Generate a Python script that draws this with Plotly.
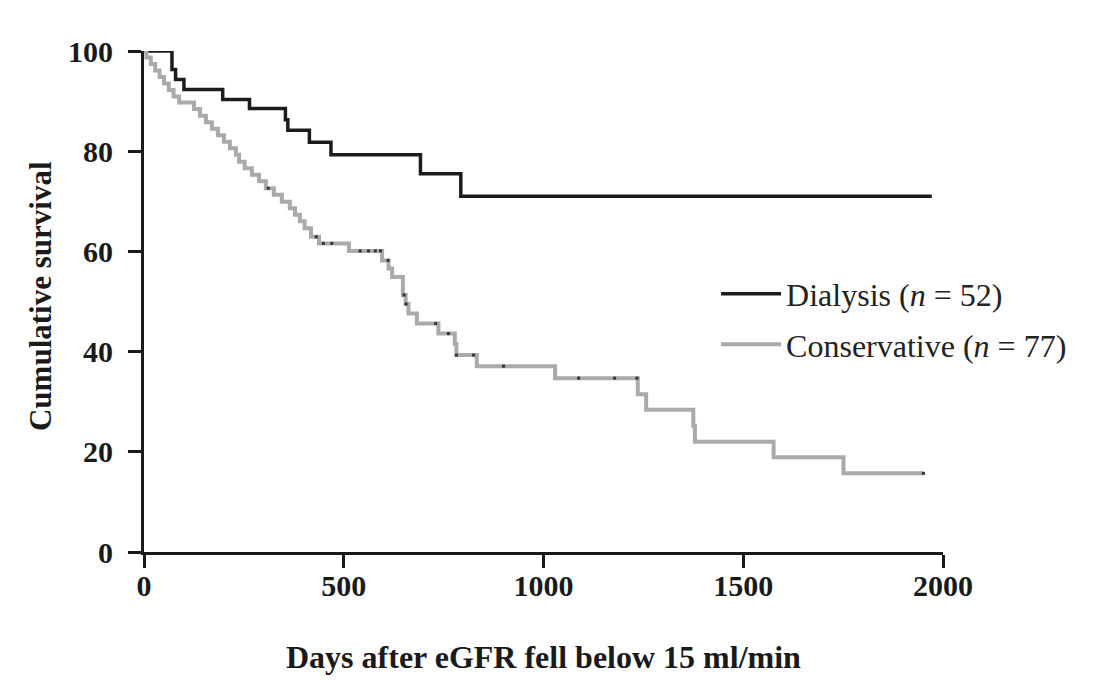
import numpy as np
import plotly.graph_objects as go

# Dialysis (n = 52) Kaplan-Meier steps
dial_days = [0, 70, 79, 100, 197, 264, 354, 360, 414, 468, 692, 793, 1972]
dial_surv = [100, 96.3, 94.3, 92.3, 90.3, 88.5, 86.3, 84.2, 81.8, 79.3, 75.5, 71.0, 71.0]

# Conservative (n = 77) Kaplan-Meier steps
cons_days = [0, 6, 17, 28, 39, 50, 62, 74, 88,
             125, 140, 155, 170, 185, 200, 215, 230, 238,
             252, 270, 288, 305, 325, 345,
             365, 378, 390, 402, 418, 438,
             513, 596, 612, 621, 648, 655, 662, 683, 737, 778, 782, 833,
             1029, 1236, 1257, 1375, 1379, 1576, 1751, 1951]
cons_surv = [100, 98.7, 97.4, 96.1, 94.8, 93.5, 92.2, 90.9, 89.7,
             88.4, 87.1, 85.8, 84.5, 83.2, 81.9, 80.6, 79.3, 77.9,
             76.6, 75.3, 74.0, 72.6, 71.3, 69.9,
             68.6, 67.3, 66.0, 64.6, 62.9, 61.6,
             60.1, 58.2, 56.6, 54.9, 51.3, 49.5, 47.6, 45.6, 43.6, 41.5, 39.3, 37.1,
             34.7, 31.5, 28.4, 25.2, 22.0, 18.9, 15.7, 15.7]

# Censored observations (conservative group), days
cons_censor = [311, 431, 449, 470, 541, 562, 579, 592, 611, 651, 656, 730,
               762, 782, 825, 900, 1088, 1178, 1234, 1951]

x_ticks = [0, 500, 1000, 1500, 2000]
y_ticks = [0, 20, 40, 60, 80, 100]

cd = np.array(cons_days)
cs = np.array(cons_surv)
cens_y = [cs[np.searchsorted(cd, t, side="right") - 1] for t in cons_censor]

SERIF = "Liberation Serif"
INK = "#1a1a1a"

fig = go.Figure()
fig.add_trace(go.Scatter(
    x=dial_days, y=dial_surv, mode="lines", line_shape="hv",
    line=dict(color="#1c1c1c", width=3.5),
    name="Dialysis (<i>n</i> = 52)", legendgroup="a"))
fig.add_trace(go.Scatter(
    x=cons_days, y=cons_surv, mode="lines", line_shape="hv",
    line=dict(color="#aaaaaa", width=4),
    name="Conservative (<i>n</i> = 77)", legendgroup="b"))
fig.add_trace(go.Scatter(
    x=cons_censor, y=cens_y, mode="markers",
    marker=dict(color="#333333", size=3, symbol="square"),
    showlegend=False, hoverinfo="skip"))

tickfont = dict(family=SERIF, size=30, color=INK, weight="bold")
fig.update_layout(
    width=1113, height=680,
    margin=dict(l=143.5, r=170, t=50.5, b=127.7),
    paper_bgcolor="white", plot_bgcolor="white",
    font=dict(family=SERIF, color=INK),
    showlegend=True,
    legend=dict(x=0.716, y=0.57, xanchor="left", yanchor="top",
                font=dict(family=SERIF, size=32, color="#222222"),
                bgcolor="rgba(0,0,0,0)", tracegroupgap=6,
                traceorder="grouped", itemwidth=60),
    xaxis=dict(range=[0, 2000], tickvals=x_ticks, ticktext=[str(v) for v in x_ticks],
               showgrid=False, zeroline=False, showline=True, linecolor=INK,
               linewidth=3, ticks="outside", ticklen=13, tickwidth=3, tickcolor=INK,
               tickfont=tickfont, ticklabelstandoff=-8),
    yaxis=dict(range=[0, 100], tickvals=y_ticks, ticktext=[str(v) for v in y_ticks],
               showgrid=False, zeroline=False, showline=True, linecolor=INK,
               linewidth=3, ticks="outside", ticklen=13, tickwidth=3, tickcolor=INK,
               tickfont=tickfont, ticklabelstandoff=9),
    annotations=[
        dict(text="<b>Days after eGFR fell below 15 ml/min</b>", xref="paper", yref="paper",
             x=0.5, y=-0.209, xanchor="center", yanchor="middle", showarrow=False,
             font=dict(family=SERIF, size=32, color=INK)),
        dict(text="<b>Cumulative survival</b>", xref="paper", yref="paper",
             x=-0.1295, y=0.51, xanchor="center", yanchor="middle", showarrow=False,
             textangle=-90, font=dict(family=SERIF, size=31, color=INK)),
    ],
)

fig.write_html("out.html")
